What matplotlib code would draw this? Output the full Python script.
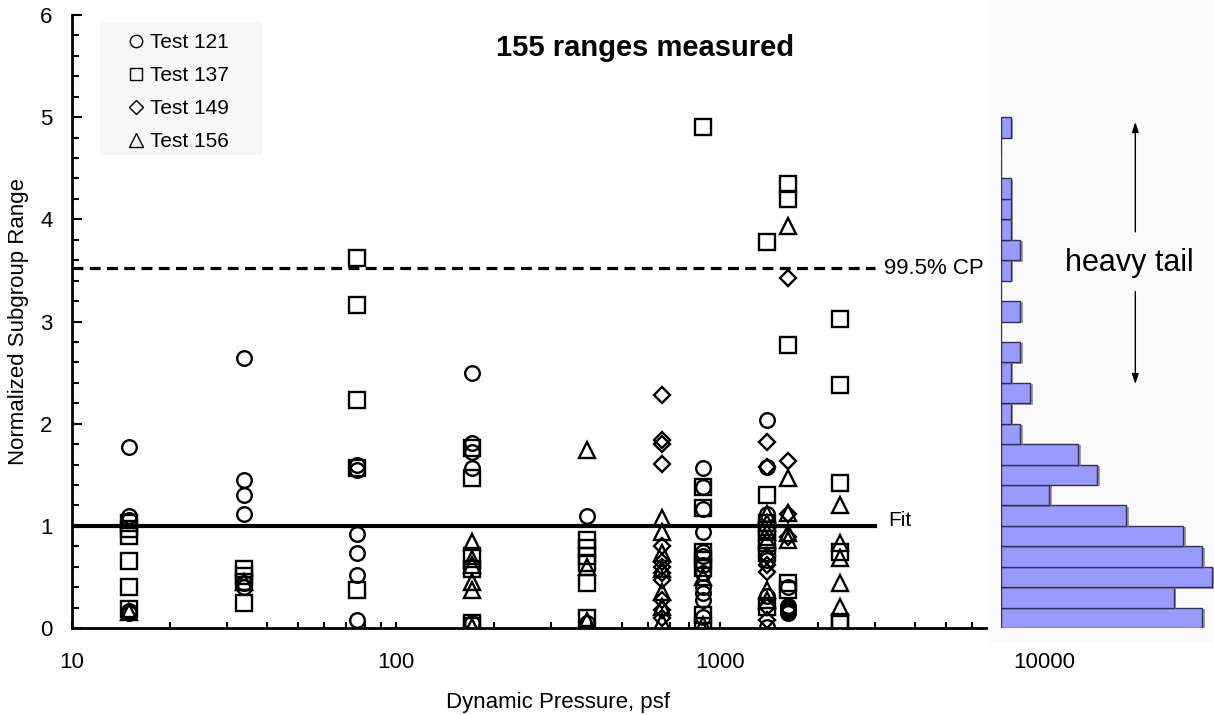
import matplotlib.pyplot as plt
import numpy as np
from matplotlib import patheffects
from matplotlib.lines import Line2D
from matplotlib.patches import Rectangle
from matplotlib.ticker import LogLocator, MultipleLocator, NullFormatter

plt.rcParams["font.family"] = ["Liberation Sans", "DejaVu Sans"]

# normalized subgroup ranges, keyed by dynamic pressure (psf)
test_121 = {
    15: [1.77, 1.10, 1.06, 0.17, 0.15],
    34: [2.64, 1.45, 1.30, 1.12, 0.44, 0.40],
    76: [1.60, 1.55, 0.92, 0.73, 0.52, 0.08],
    172: [2.50, 1.81, 1.72, 1.57, 0.05],
    389: [1.10, 0.05],
    886: [1.57, 1.38, 1.16, 0.94, 0.74, 0.70, 0.62, 0.54, 0.40, 0.34, 0.27, 0.11],
    1396: [2.04, 1.58, 1.12, 0.67, 0.31, 0.01],
    1622: [0.40, 0.22, 0.20, 0.18, 0.16, 0.15],
}
test_137 = {
    15: [1.03, 0.97, 0.90, 0.66, 0.40, 0.19],
    34: [0.58, 0.51, 0.45, 0.24],
    76: [3.62, 3.16, 2.23, 1.57, 0.37],
    172: [1.76, 1.47, 0.70, 0.58, 0.05, 0.02],
    389: [0.86, 0.78, 0.70, 0.64, 0.44, 0.10],
    886: [4.90, 1.38, 1.17, 0.74, 0.67, 0.59, 0.13, 0.02],
    1396: [3.78, 1.30, 1.03, 0.96, 0.83, 0.73, 0.21],
    1622: [4.35, 4.20, 2.77, 0.44, 0.37],
    2346: [3.02, 2.38, 1.42, 0.74, 0.06, 0.04],
}
test_149 = {
    662: [2.28, 1.84, 1.80, 1.61, 0.80, 0.65, 0.60, 0.54, 0.47, 0.27, 0.18, 0.10],
    1396: [1.82, 1.58, 0.70, 0.62, 0.55, 0.21, 0.08],
    1622: [3.43, 1.63, 1.12, 0.89],
}
test_156 = {
    15: [0.16],
    34: [0.45],
    172: [0.84, 0.68, 0.62, 0.45, 0.37, 0.01],
    389: [1.74, 0.60, 0.07],
    662: [1.08, 0.94, 0.73, 0.58, 0.35, 0.21, 0.06],
    886: [0.50, 0.03],
    1396: [1.12, 1.03, 0.94, 0.86, 0.37, 0.27],
    1622: [3.93, 1.47, 1.13, 0.93, 0.86],
    2346: [1.20, 0.83, 0.69, 0.44, 0.21],
}

fit_value = 1.0
cp_value = 3.52
fit_q_range = [10, 3000]

# histogram of all 155 ranges, bins of 0.2 starting at 0
hist_counts = [21, 18, 22, 21, 19, 13, 5, 10, 8, 2, 1, 3, 1, 2, 0,
               2, 0, 1, 2, 1, 1, 1, 0, 0, 1]
bin_width = 0.2

tests = [
    ("Test 121", test_121, "o", 10.5),
    ("Test 137", test_137, "s", 11),
    ("Test 149", test_149, "D", 8.2),
    ("Test 156", test_156, "^", 11.5),
]


def flatten(data):
    q, r = [], []
    for key, vals in data.items():
        q += [key] * len(vals)
        r += vals
    return q, r


W, H = 1214, 715
fig = plt.figure(figsize=(W / 100, H / 100), dpi=100)
fig.patch.set_facecolor("white")
ax = fig.add_axes([72 / W, 87 / H, 972 / W, 613 / H])

for label, data, marker, size in tests:
    q, r = flatten(data)
    ax.plot(q, r, linestyle="none", marker=marker, markersize=size,
            markerfacecolor="none", markeredgecolor="black",
            markeredgewidth=1.7)

ax.plot(fit_q_range, [fit_value, fit_value], color="black", linewidth=3)
ax.plot(fit_q_range, [cp_value, cp_value], color="black", linewidth=2.3,
        linestyle=(0, (3.4, 2.0)))
ax.text(3300, fit_value + 0.05, "Fit", fontsize=15, va="center", ha="left")
ax.text(3200, cp_value, "99.5% CP", fontsize=16, va="center", ha="left")

ax.set_xscale("log")
ax.set_xlim(10, 10000)
ax.set_ylim(0, 6)
ax.xaxis.set_major_locator(LogLocator(base=10))
ax.xaxis.set_minor_locator(LogLocator(base=10, subs=np.arange(2, 10)))
ax.xaxis.set_minor_formatter(NullFormatter())
ax.set_xticks([10, 100, 1000, 10000], ["10", "100", "1000", "10000"])
ax.yaxis.set_major_locator(MultipleLocator(1))
ax.yaxis.set_minor_locator(MultipleLocator(0.2))

ax.tick_params(axis="both", which="both", direction="in", width=1.5,
               labelsize=16, top=False, right=False)
ax.tick_params(axis="y", which="major", length=7, pad=14)
ax.tick_params(axis="y", which="minor", length=5)
ax.tick_params(axis="x", which="both", length=4, pad=17)

for side in ["top", "right"]:
    ax.spines[side].set_visible(False)
for side in ["left", "bottom"]:
    ax.spines[side].set_linewidth(2)

ax.set_xlabel("Dynamic Pressure, psf", fontsize=16, labelpad=14)
ax.set_ylabel("Normalized Subgroup Range", fontsize=16, labelpad=8)
ax.text(0.59, 0.946, "155 ranges measured", transform=ax.transAxes,
        fontsize=21, fontweight="bold", ha="center", va="center")

# legend: shaded box plus frameless legend
ax.add_patch(Rectangle((100 / W, 1 - 155 / H), 162 / W, 133 / H,
                       transform=fig.transFigure, facecolor="#f7f7f7",
                       edgecolor="none", zorder=0.5, clip_on=False))
handles = [
    Line2D([], [], linestyle="none", marker=m, markersize=s * 0.85,
           markerfacecolor="none", markeredgecolor="black",
           markeredgewidth=1.0)
    for _, _, m, s in tests
]
leg = ax.legend(handles, [t[0] for t in tests], loc="upper left",
                bbox_to_anchor=(126 / W, 1 - 33.5 / H),
                bbox_transform=fig.transFigure, fontsize=15,
                frameon=False, borderaxespad=0, borderpad=0,
                handlelength=1.0, handletextpad=0.15, labelspacing=0.67)

# histogram panel on the right
fig.patches.append(Rectangle((988 / W, 73 / H), 226 / W, 642 / H,
                             transform=fig.transFigure, facecolor="#fafafa",
                             edgecolor="none", zorder=1))
hx = fig.add_axes([1001 / W, 87 / H, 213 / W, 613 / H], zorder=2)
hx.patch.set_alpha(0)
bin_bottoms = np.arange(len(hist_counts)) * bin_width
bars = hx.barh(bin_bottoms, hist_counts, height=bin_width, align="edge",
               color="#9999ff", edgecolor="#303050", linewidth=1)
for bar in bars:
    bar.set_path_effects([patheffects.SimplePatchShadow(offset=(2, -1),
                                                        shadow_rgbFace="#777777",
                                                        alpha=0.7),
                          patheffects.Normal()])
hx.set_xlim(0, 22.2)
hx.set_ylim(0, 6)
hx.axis("off")

hx.text(13.4, 3.57, "heavy tail", fontsize=22, ha="center", va="center")
arrow_kw = dict(arrowstyle="-|>,head_length=0.6,head_width=0.2",
                color="black", lw=1)
hx.annotate("", xy=(14.0, 4.98), xytext=(14.0, 3.85), arrowprops=arrow_kw)
hx.annotate("", xy=(14.0, 2.36), xytext=(14.0, 3.32), arrowprops=arrow_kw)

fig.savefig("out.png", dpi=100, facecolor=fig.get_facecolor())
plt.close(fig)
